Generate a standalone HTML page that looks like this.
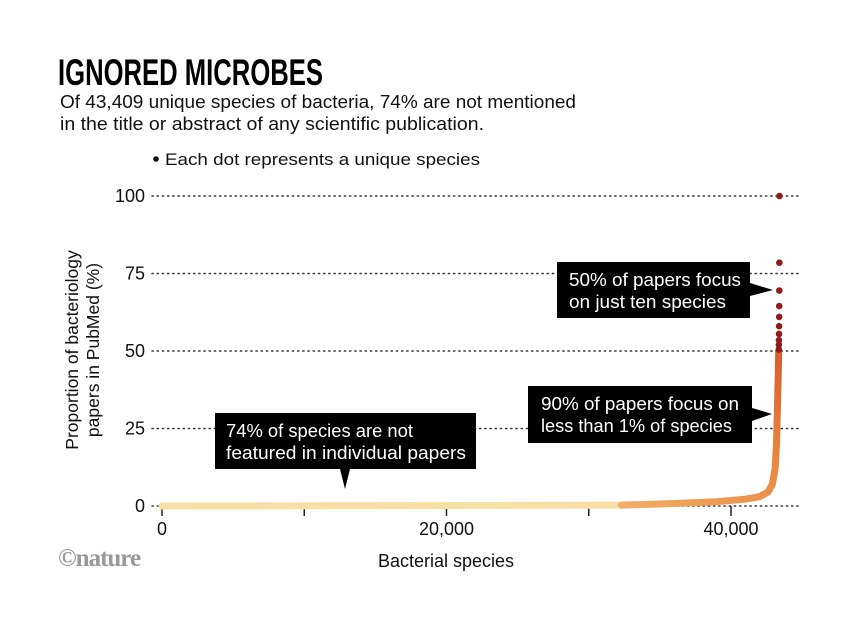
<!DOCTYPE html>
<html><head><meta charset="utf-8"><style>
body{margin:0;background:#fff;width:863px;height:624px;overflow:hidden;font-family:"Liberation Sans",sans-serif;}
svg{display:block}
</style></head><body>
<svg id="chart" width="863" height="624" xmlns="http://www.w3.org/2000/svg">
<defs>
<linearGradient id="og" gradientUnits="userSpaceOnUse" x1="620" y1="506" x2="778" y2="330">
<stop offset="0" stop-color="#f2ad66"/><stop offset="0.6" stop-color="#e9853f"/><stop offset="1" stop-color="#d9532a"/>
</linearGradient>
</defs>
<text x="58" y="85" font-family="'Liberation Sans Narrow','Liberation Sans',sans-serif" font-weight="bold" font-size="37" textLength="265" lengthAdjust="spacingAndGlyphs">IGNORED MICROBES</text>
<text x="60" y="108" font-size="18" fill="#111" textLength="516" lengthAdjust="spacingAndGlyphs">Of 43,409 unique species of bacteria, 74% are not mentioned</text>
<text x="60" y="130" font-size="18" fill="#111" textLength="424" lengthAdjust="spacingAndGlyphs">in the title or abstract of any scientific publication.</text>
<g><circle cx="156" cy="159" r="2.8" fill="#111"/><text x="165" y="165" font-size="17" fill="#111" textLength="315" lengthAdjust="spacingAndGlyphs">Each dot represents a unique species</text></g>
<g id="grid"></g><g id="yticks"></g><g id="xticks"></g><g id="marks"></g>
<text transform="translate(78,350) rotate(-90)" text-anchor="middle" font-size="17.5" fill="#111"><tspan x="0" y="0">Proportion of bacteriology</tspan><tspan x="0" y="21">papers in PubMed (%)</tspan></text>
<text x="446" y="567" text-anchor="middle" font-size="18" fill="#111">Bacterial species</text>
<text x="58" y="566" font-family="'Liberation Serif',serif" font-weight="bold" font-size="25" fill="#999" letter-spacing="-1">©nature</text>
<g><rect x="557" y="262" width="193" height="56" fill="#000"/><path d="M750,283 L773,290 L750,296Z" fill="#000"/><text x="569" y="286" font-size="18" fill="#fff" textLength="172" lengthAdjust="spacingAndGlyphs">50% of papers focus</text><text x="569" y="308" font-size="18" fill="#fff" textLength="157" lengthAdjust="spacingAndGlyphs">on just ten species</text></g>
<g><rect x="528" y="386" width="224" height="57" fill="#000"/><path d="M752,408 L772,414 L752,421Z" fill="#000"/><text x="541" y="410" font-size="18" fill="#fff" textLength="198" lengthAdjust="spacingAndGlyphs">90% of papers focus on</text><text x="541" y="432" font-size="18" fill="#fff" textLength="191" lengthAdjust="spacingAndGlyphs">less than 1% of species</text></g>
<g><rect x="215" y="413" width="261" height="56" fill="#000"/><path d="M340,469 L345,489 L350,469Z" fill="#000"/><text x="226" y="437" font-size="18" fill="#fff" textLength="187" lengthAdjust="spacingAndGlyphs">74% of species are not</text><text x="226" y="459" font-size="18" fill="#fff" textLength="240" lengthAdjust="spacingAndGlyphs">featured in individual papers</text></g>
</svg>
<script>
const yTicks=[0,25,50,75,100];
const xTicks=[0,10000,20000,30000,40000];
const xTickLabels=["0","","20,000","","40,000"];
const flatSpecies=[0,32300];
const flatPercent=[0,0.3];
const curveSpecies=[32300,36000,39000,41000,42000,42600,42900,43100,43200,43280,43330,43350];
const curvePercent=[0.3,0.8,1.4,2.2,3,4.5,7,12,20,35,45,50];
const dotSpecies=[43409,43400,43395,43390,43385,43380,43375,43370,43365,43360];
const dotPercent=[100,78.5,69.5,64.5,61,58,55.5,53.5,52,50.5];
const NS="http://www.w3.org/2000/svg";
const x=v=>162+v*(569/40000);
const y=v=>506-v*3.1;
function mk(t,a,p){const e=document.createElementNS(NS,t);for(const k in a)e.setAttribute(k,a[k]);p.appendChild(e);return e;}
const grid=document.getElementById('grid'),yt=document.getElementById('yticks'),xt=document.getElementById('xticks'),marks=document.getElementById('marks');
yTicks.forEach(v=>{
 const l=mk('line',{x1:152,x2:800,y1:y(v),y2:y(v),stroke:'#333','stroke-width':1.5,'stroke-dasharray':'1.2 4','stroke-linecap':'round'},grid);
 
 
 const t=mk('text',{x:145,y:y(v)+6,'text-anchor':'end','font-size':18,fill:'#111'},yt);t.textContent=v;
 
 
});
xTicks.forEach((v,i)=>{
 const l=mk('line',{x1:x(v),x2:x(v),y1:506,y2:516,stroke:'#222','stroke-width':1.5},xt);
 
 
 if(xTickLabels[i]){const t=mk('text',{x:x(v),y:535,'text-anchor':'middle','font-size':18,fill:'#111'},xt);t.textContent=xTickLabels[i];
 
 }
});
const pathOf=(xs,ys)=>xs.map((v,i)=>(i?'L':'M')+x(v).toFixed(1)+','+y(ys[i]).toFixed(1)).join(' ');
const flat=mk('path',{d:pathOf(flatSpecies,flatPercent),stroke:'#f8dfa6','stroke-width':7,fill:'none','stroke-linecap':'round'},marks);


const cur=mk('path',{d:pathOf(curveSpecies,curvePercent),stroke:'url(#og)','stroke-width':7,fill:'none','stroke-linecap':'round','stroke-linejoin':'round'},marks);


dotSpecies.forEach((v,i)=>{
 const c=mk('circle',{cx:x(v),cy:y(dotPercent[i]),r:3.3,fill:'#8c1c1c'},marks);
 
 
});
</script>
</body></html>
